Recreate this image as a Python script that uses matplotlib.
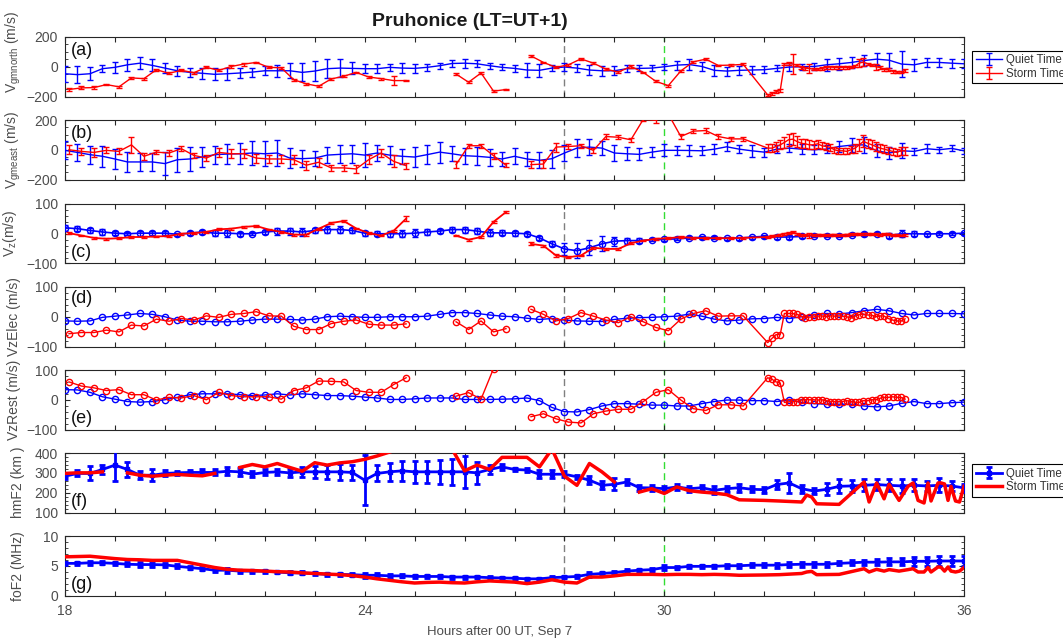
import numpy as np
import matplotlib.pyplot as plt
from matplotlib.ticker import MultipleLocator

plt.rcParams['font.family'] = ['Liberation Sans', 'DejaVu Sans']
nan = np.nan

# time grids (hours after 00 UT, Sep 7)
quiet_t = np.arange(18, 36.01, 0.25)
storm_t = np.concatenate([np.arange(18.08, 31.6, 0.25), np.arange(32.07, 34.86, 1 / 12)])
storm_t2 = np.concatenate([np.arange(18, 31.6, 0.25),
                           [32.0, 32.3, 32.75, 32.85, 32.95, 33.05, 33.5, 34.0, 34.1, 34.25, 34.4,
                            34.5, 34.7, 34.88, 34.98, 35.08, 35.2, 35.28, 35.34, 35.48, 35.54, 35.61,
                            35.68, 35.74, 35.83, 35.91, 36.0]])

# (a) Vgmnorth
north_q = [-47, -53, -47, -13, -4, 13, 24, 9, -9, -27, -38, -44, -51, -47, -42, -36, -27, -27, -27, -38, -29, -13, -9, -11,
           -13, -13, -4, -9, -11, -4, 7, 22, 24, 20, 7, -4, -11, -22, -24, -9, -2, -9, -22, -27, -27, -13, -11, -9, 0, 11, 15,
           2, -24, -29, -24, -22, -20, -11, -2, 0, 2, 13, 20, 29, 42, 51, 44, 18, 13, 29, 29, 24, 20]
north_q_err = [55, 55, 45, 25, 35, 40, 40, 40, 35, 35, 30, 35, 40, 40, 35, 30, 30, 40, 50, 60, 65, 65, 60, 40,
               30, 30, 25, 35, 30, 25, 20, 25, 30, 25, 20, 20, 25, 45, 45, 20, 25, 25, 35, 35, 30, 25, 20, 20, 20, 30, 35,
               30, 35, 30, 30, 30, 25, 20, 25, 20, 25, 40, 40, 35, 40, 40, 50, 90, 40, 30, 30, 30, 30]
north_s = [-153, -142, -140, -120, -135, -75, -80, -20, -44, -24, -40, -4, -24, 2, 18, 29, -4, -7, -87, -115, -131, -82, -64, -38,
           -69, -80, -93, -93, nan, nan, nan, -49, -104, -42, -164, -153, nan, 73, 29, -4, 13, 53, 24, -16, -36, 2, -38,
           -98, -127, -28, 33, 51, 9, 11, 16,
           -190, -180, -168, -160, 20, 22, 18, 10, -5, -9, -12, -16, -16, -12, -5, -2, -4, -5, -4, -5, -3, 5, 25, 31,
           20, 10, 0, -5, -18, -20, -30, -36, -35, -25]
north_s_err = [8, 10, 12, 6, 6, 8, 6, 8, 6, 6, 6, 6, 6, 8, 10, 6, 6, 8, 8, 8, 8, 6, 6, 6, 6, 6, 30, 6, 0, 0, 0, 8, 8, 8, 6, 6, 0,
               6, 6, 6, 6, 8, 6, 6, 6, 8, 6, 6, 6, 6, 6, 6, 6, 6, 6,
               8, 10, 10, 8, 6, 8, 70, 8, 10, 10, 30, 8, 8, 8, 8, 10, 8, 8, 8, 8, 8, 10, 25, 25, 8, 8, 20, 10, 8, 10, 10, 8, 8, 8]

# (b) Vgmeast
east_q = [-4, -18, -33, -44, -62, -82, -82, -82, -93, -67, -62, -49, -33, -29, -27, -22, -27, -22, -56, -60, -56, -36, -31, -27,
          -36, -22, -36, -44, -49, -33, -16, -27, -40, -44, -51, -62, -44, -62, -71, -60, -22, 11, 18, 11, -22, -27, -31, -16, -4, -4, -5,
          -7, 4, 20, 4, -7, -16, 4, 11, 4, 0, 4, 22, 31, 33, -7, -22, -7, -11, 7, 0, 9, -7]
east_q_err = [60, 55, 60, 70, 70, 65, 60, 60, 80, 80, 80, 65, 60, 70, 70, 80, 85, 90, 70, 55, 50, 55, 60, 60,
              80, 55, 60, 50, 70, 65, 70, 50, 55, 60, 55, 50, 55, 45, 55, 60, 55, 60, 55, 45, 55, 45, 40, 35, 40, 30, 35,
              30, 35, 30, 25, 40, 30, 25, 25, 35, 30, 25, 35, 45, 55, 45, 40, 50, 25, 30, 20, 20, 20]
east_s = [0, -11, -18, -4, -11, 33, -44, -16, -22, 7, -38, -56, -18, -27, -27, -56, -62, -62, -67, -104, -84, -122, -122, -129,
          -67, -22, -78, -107, nan, nan, nan, -100, 27, 27, -40, -104, nan, -100, -96, 18, 22, 27, -4, 89, 84, 67, 205,
          198, 240, 89, 125, 129, 89, 73, 73,
          11, 11, 22, 33, 49, 67, 71, 56, 44, 40, 33, 33, 40, 27, 22, 16, 0, -7, -7, -11, 0, 11, 33, 56, 44, 33, 22, 11,
          4, -4, -11, -18, -7, -7]
east_s_err = [30, 25, 30, 20, 20, 55, 25, 15, 20, 15, 15, 20, 30, 30, 30, 30, 30, 30, 30, 30, 30, 20, 20, 25, 30, 25, 40, 20,
              0, 0, 0, 25, 15, 15, 20, 15, 0, 25, 25, 30, 15, 15, 15, 15, 15, 15, 15, 15, 15, 15, 15, 15, 15, 15, 15,
              25, 25, 30, 30, 35, 40, 40, 35, 30, 30, 30, 25, 25, 25, 25, 25, 20, 20, 20, 20, 25, 30, 40, 40, 30, 30, 30, 25,
              25, 25, 25, 25, 25, 25]

# (c) Vz
vz_q = [20, 17, 11, 6, 2, 0, 2, 2, 2, -2, 2, 6, 2, 2, 0, 0, 6, 9, 9, 6, 11, 14, 14, 11,
        2, 0, 0, 0, 2, 6, 9, 14, 14, 9, 3, 3, 2, 0, -14, -34, -51, -57, -47, -34, -25, -23, -23, -20, -19, -17, -14,
        -12, -14, -15, -15, -11, -9, -11, -11, -9, -6, -6, -7, -3, -1, 0, -6, 0, 0, -1, 0, 0, 2]
vz_q_err = [10, 8, 8, 10, 6, 5, 8, 6, 7, 5, 6, 8, 10, 12, 6, 5, 6, 12, 12, 12, 10, 12, 12, 10,
            8, 8, 10, 12, 14, 10, 8, 8, 10, 10, 12, 8, 8, 6, 6, 8, 20, 25, 25, 25, 15, 10, 8, 6, 6, 5, 5,
            5, 5, 5, 5, 5, 6, 6, 6, 5, 5, 6, 5, 5, 6, 5, 8, 12, 8, 5, 5, 5, 5]
vz_s = [2, -6, -14, -17, -15, -11, -11, -9, -8, 0, 2, 6, 15, 17, 23, 26, 14, 6, -3, -3, 17, 36, 43, 18,
        2, -6, 10, 51, nan, nan, nan, -6, -20, -11, 40, 73, nan, -34, -40, -73, -79, -73, -47, -51, -51, -32, -23,
        -17, -15, -11, -14, -15, -15, -15, -14,
        -11, -8, -6, -3, 0, 2, 5, 0, -3, -5, -5, -4, -3, -4, -5, -4, -3, -5, -4, -3, -2, -1, -2, 0, 0, -1, -2, -3,
        -1, -2, -4, -5, -6, -5]
vz_s_err = [3] * 22 + [4, 3, 3, 3, 3, 8] + [0, 0, 0] + [3, 3, 3, 3, 3] + [0] + [5, 3, 6, 3, 3, 3, 3, 3, 3, 3, 3,
            3, 3, 3, 3, 3, 3, 3] + [3] * 10 + [8, 3, 3, 3, 3, 3] + [3] * 18

# (d) VzElec
elec_q = [-14, -15, -14, -2, 2, 6, 11, 8, 0, -11, -15, -15, -17, -17, -15, -11, -8, -8, -9, -11, -8, 0, 2, 0,
          -2, -2, 0, 0, 0, 2, 8, 14, 14, 11, 6, 2, 0, -5, -9, -6, -11, -14, -15, -16, -9, -5, -3, -2, 0, 2, 9,
          2, -8, -14, -11, -7, -6, -2, -6, 0, 6, 11, 9, 14, 20, 25, 20, 11, 6, 11, 11, 11, 10]
elec_s = [-57, -53, -53, -45, -51, -28, -31, -8, -15, -6, -11, 3, -2, 8, 11, 17, 3, 2, -32, -43, -43, -23, -15, -11,
          -25, -28, -28, -24, nan, nan, nan, -17, -43, -14, -51, -40, nan, 25, 8, -14, -6, 14, 2, -11, -20, 0, -17,
          -36, -47, -8, 11, 20, 2, 3, 3,
          -87, -73, -60, -60, 11, 11, 11, 8, 2, -3, -1, -1, 2, 3, 0, 3, 2, 3, 2, 0, -5, 2, 7, 9, 6, 5, 0, 3, 2, -6,
          -11, -14, -15, -7]

# (e) VzRest
rest_q = [34, 33, 25, 10, 2, -6, -8, -6, 0, 8, 17, 20, 20, 20, 17, 14, 16, 20, 16, 20, 17, 14, 14, 12,
          9, 6, 1, 1, 3, 6, 6, 6, 1, 1, 1, 2, 3, 6, -3, -26, -40, -41, -33, -21, -13, -13, -15, -18, -18, -21, -21,
          -13, -6, -1, -1, -3, -3, -6, -1, -9, -13, -15, -15, -15, -21, -24, -21, -12, -6, -13, -13, -10, -8]
rest_s = [60, 46, 40, 31, 34, 17, 17, -1, 8, 6, 14, 0, 25, 14, 10, 10, 10, 2, 31, 40, 63, 62, 60, 31,
          25, 25, 51, 74, nan, nan, nan, 12, 24, 2, 105, nan, nan, -57, -47, -64, -75, -78, -47, -38, -32, -32, -6,
          25, 34, -1, -30, -36, -17, -17, -21,
          74, 69, 60, 56, -9, -7, -6, -6, -1, 0, 0, 0, -1, 0, -3, -6, -6, -6, -6, -3, -6, -9, -9, -3, -3, 0, 0, 5, 8, 8,
          10, 8, 8, 2]

# (f) hmF2
hm_q = [283, 297, 297, 317, 339, 317, 288, 288, 297, 300, 302, 302, 302, 308, 305, 293, 302, 305, 300, 305, 305, 305, 305, 302,
        263, 297, 305, 310, 305, 305, 305, 305, 305, 300, 317, 330, 317, 314, 293, 293, 293, 280, 263, 237, 242, 254, 225,
        224, 220, 229, 220,
        225, 212, 220, 225, 217, 215, 241, 249, 220, 208, 217, 232, 234, 237, 241, 237, 234, 237, 234, 237, 234, 224]
hm_q_err = [15, 15, 35, 25, 80, 40, 20, 30, 15, 10, 10, 15, 15, 20, 20, 15, 15, 15, 20, 25, 30, 35, 40, 40,
            125, 40, 45, 50, 55, 55, 60, 65, 80, 55, 25, 15, 8, 8, 20, 20, 15, 10, 20, 20, 30, 15, 15, 15, 15, 15, 15,
            15, 20, 15, 20, 15, 15, 25, 50, 20, 15, 30, 35, 30, 30, 30, 30, 35, 30, 25, 35, 25, 20]
hm_s = [297, 300, 300, 305, nan, 300, 288, 283, 288, 292, 288, 285, 297, nan, 327, 342, 330, 347, 327, 308, 351, 339, 350,
        356, 368, 385, 405, 425, 440, 450, 440, 420, 310, 339, 317, 378, 378, 378, 330, 420, 283, 237, 347, 305, 254,
        nan, 203, 220, 196, 229, 210, 203, 198, 190, 164,
        161, 158, 153, 188, 178, 144, 141, 254, 153, 249, 169, 242, 161, 232, 249, 161, 148, 249, 158, 249, 249, 244,
        161, 232, 158, 153, 232]

# (g) foF2
fo_q = [5.4, 5.4, 5.5, 5.5, 5.4, 5.25, 5.2, 5.2, 5.15, 4.9, 4.7, 4.5, 4.25, 4.25, 4.1, 4.1, 4.1, 3.95, 3.8, 3.8, 3.7, 3.55,
        3.55, 3.5,
        3.4, 3.4, 3.3, 3.3, 3.2, 3.2, 3.2, 3.1, 3.1, 3.1, 3.0, 2.95, 2.9, 2.8, 2.8, 3.0, 3.1, 3.2, 3.55, 3.7, 3.85, 4.1,
        4.25, 4.35, 4.7, 4.7, 4.9,
        4.9, 4.9, 5.0, 5.0, 5.1, 5.1, 5.1, 5.2, 5.25, 5.25, 5.25, 5.4, 5.5, 5.6, 5.6, 5.65, 5.65, 5.75, 5.75, 5.8, 5.8, 5.8]
fo_q_err = [0.3, 0.3, 0.3, 0.25, 0.3, 0.3, 0.4, 0.35, 0.35, 0.35, 0.3, 0.25, 0.3, 0.4, 0.25, 0.25, 0.25, 0.25, 0.25, 0.25,
            0.25, 0.25, 0.25, 0.25,
            0.4, 0.3, 0.3, 0.25, 0.25, 0.25, 0.25, 0.25, 0.25, 0.2, 0.2, 0.2, 0.2, 0.2, 0.2, 0.2, 0.2, 0.2, 0.45, 0.25, 0.25,
            0.3, 0.25, 0.3, 0.4, 0.3, 0.3,
            0.3, 0.3, 0.3, 0.3, 0.35, 0.35, 0.4, 0.4, 0.4, 0.45, 0.4, 0.35, 0.4, 0.45, 0.5, 0.6, 0.6, 0.8, 0.8, 0.9, 0.9, 0.9]
fo_s = [6.5, 6.55, 6.6, 6.4, 6.2, 6.05, 6.0, 5.9, 5.9, 5.9, 5.5, 5.1, 4.7, 4.4, 4.25, 4.2, 4.1, 4.0, 3.95, 3.8, 3.7, 3.6,
        3.5, 3.35, 3.1, 2.8, 2.55, 2.3, 2.1, 2.2, 2.25, 2.15, 2.1, 2.3, 2.45, 2.35, 2.25, 2.0, 2.25, 2.65, 2.25, 2.1, 3.1,
        3.1, 3.3, 3.55, 3.55, 3.55, 3.5, 3.55, 3.55, 3.5, 3.55, 3.5, 3.4,
        3.45, 3.5, 3.7, 3.95, 4.05, 3.5, 3.55, 4.5, 3.95, 4.4, 4.1, 4.35, 4.1, 4.35, 4.5, 3.95, 3.95, 4.7, 3.95, 4.8,
        4.75, 4.1, 4.8, 4.1, 3.95, 4.1, 4.7]

W, H = 1063, 643
fig = plt.figure(figsize=(W / 100, H / 100), dpi=100)
tops = [37, 120, 204, 287, 370, 453, 536]
ph = 59.5
axes = [fig.add_axes([65 / W, 1 - (t + ph) / H, 899 / W, ph / H]) for t in tops]

gray = '#4d4d4d'
settings = [((-200, 200), [-200, 0, 200], 50, 'V$_{\\mathregular{gmnorth}}$ (m/s)', '(a)', 0.78),
            ((-200, 200), [-200, 0, 200], 50, 'V$_{\\mathregular{gmeast}}$ (m/s)', '(b)', 0.78),
            ((-100, 100), [-100, 0, 100], 20, 'V$_{\\mathregular{z}}$(m/s)', '(c)', 0.18),
            ((-100, 100), [-100, 0, 100], 20, 'VzElec (m/s)', '(d)', 0.80),
            ((-100, 100), [-100, 0, 100], 20, 'VzRest (m/s)', '(e)', 0.19),
            ((100, 400), [100, 200, 300, 400], 20, 'hmF2 (km )', '(f)', 0.18),
            ((0, 10), [0, 5, 10], 1, 'foF2 (MHz)', '(g)', 0.18)]
label_x = [-0.047, -0.047, -0.051, -0.049, -0.049, -0.044, -0.044]


def add_legend(ax, handles, y):
    leg = ax.legend(handles, ['Quiet Time', 'Storm Time'], loc='upper left', bbox_to_anchor=(1.009, y),
                    fontsize=8.3, fancybox=False, edgecolor='black', borderaxespad=0, borderpad=0.3,
                    labelspacing=0.15, handlelength=2.3, handletextpad=0.3, framealpha=1)
    leg.get_frame().set_linewidth(0.8)
    for t in leg.get_texts():
        t.set_color('#333333')


for i, (ax, (ylim, yt, mn, ylab, tag, ty)) in enumerate(zip(axes, settings)):
    ax.set_xlim(18, 36)
    ax.set_ylim(*ylim)
    ax.set_yticks(yt)
    ax.yaxis.set_minor_locator(MultipleLocator(mn))
    ax.set_xticks(range(18, 37))
    if i == 6:
        ax.set_xticklabels([str(h) if h % 6 == 0 else '' for h in range(18, 37)])
    else:
        ax.set_xticklabels([])
    ax.tick_params(which='both', direction='in', top=True, right=True, labelsize=10,
                   labelcolor=gray, color='#262626')
    ax.tick_params(which='major', length=3.5, width=0.8)
    ax.tick_params(which='minor', length=2, width=0.6)
    ax.tick_params(axis='x', which='minor', length=0)
    ax.tick_params(axis='y', pad=5)
    ax.tick_params(axis='x', pad=6)
    for s in ax.spines.values():
        s.set_color('#262626')
        s.set_linewidth(0.8)
    ax.set_ylabel(ylab, fontsize=10, color=gray)
    ax.yaxis.set_label_coords(label_x[i], 0.75 if i == 0 else 0.5)
    ax.text(0.007, ty, tag, transform=ax.transAxes, fontsize=13, va='center', ha='left', color='#111111')
    ax.axvline(28, color='#7f7f7f', ls=(0, (5, 3)), lw=1, zorder=1)
    ax.axvline(30, color='#33dd33', ls=(0, (5, 3)), lw=1, zorder=1)

blue, red = '#0000ff', '#ff0000'

# (a), (b)
for ax, q, qe, s, se in [(axes[0], north_q, north_q_err, north_s, north_s_err),
                         (axes[1], east_q, east_q_err, east_s, east_s_err)]:
    hq = ax.errorbar(quiet_t, q, yerr=qe, color=blue, lw=1, elinewidth=1, capsize=2.5, capthick=1, zorder=3)
    hs = ax.errorbar(storm_t, s, yerr=se, color=red, lw=1, elinewidth=1, capsize=2.5, capthick=1, zorder=4)
    if ax is axes[0]:
        add_legend(ax, [hq, hs], 0.77)

# (c)
axes[2].errorbar(quiet_t, vz_q, yerr=vz_q_err, color=blue, lw=1.2, marker='o', mfc='none', ms=4.5, mew=1,
                 elinewidth=1, capsize=2.5, capthick=1, zorder=3)
axes[2].errorbar(storm_t, vz_s, yerr=vz_s_err, color=red, lw=1.3, elinewidth=1, capsize=2.5, capthick=1, zorder=4)

# (d), (e)
for ax, q, s in [(axes[3], elec_q, elec_s), (axes[4], rest_q, rest_s)]:
    ax.plot(quiet_t, q, color=blue, lw=1, marker='o', mfc='none', ms=4.5, mew=1, zorder=3)
    ax.plot(storm_t, s, color=red, lw=1, marker='o', mfc='none', ms=4.5, mew=1, zorder=4)

# (f), (g)
for ax, q, qe, s in [(axes[5], hm_q, hm_q_err, hm_s), (axes[6], fo_q, fo_q_err, fo_s)]:
    hq = ax.errorbar(quiet_t, q, yerr=qe, color=blue, lw=2, marker='s', ms=2.5, elinewidth=2, capsize=2.5,
                     capthick=2, zorder=3)
    hs, = ax.plot(storm_t2, s, color=red, lw=2.5, zorder=4)
    if ax is axes[5]:
        add_legend(ax, [hq, hs], 0.81)

fig.text(470 / W, 1 - 22 / H, 'Pruhonice (LT=UT+1)', ha='center', va='center', fontsize=14,
         fontweight='bold', color='#1a1a1a')
fig.text(500 / W, 1 - 632 / H, 'Hours after 00 UT, Sep 7', ha='center', va='center', fontsize=9.5, color=gray)

fig.savefig('out.png', dpi=100)
